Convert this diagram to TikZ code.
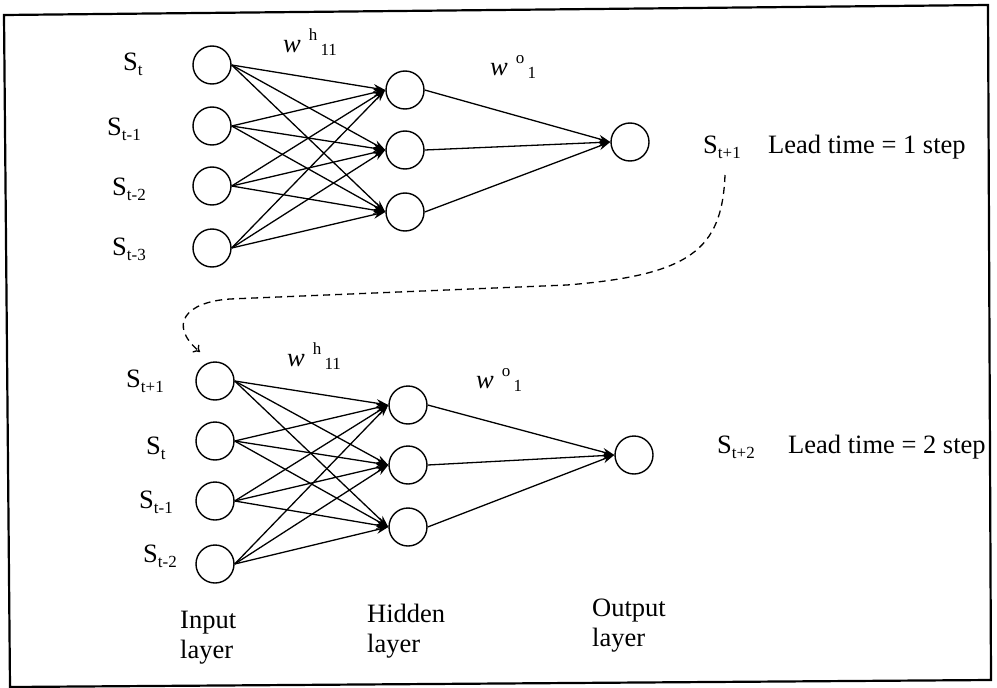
\documentclass[tikz,border=0pt]{standalone}
\usepackage{fontspec}
\setmainfont{Liberation Serif}
\usetikzlibrary{arrows.meta}

% small raised / lowered indices used in the labels
\newcommand{\lsub}[1]{\raisebox{-0.22em}{\fontsize{17}{17}\selectfont #1}}
\newcommand{\wlab}[2]{\textit{w}\hspace{0.3em}\raisebox{0.42em}{\fontsize{17}{17}\selectfont #1}\hspace{0.12em}\raisebox{-0.12em}{\fontsize{17}{17}\selectfont #2}}

\tikzset{
  neuron/.style={circle, draw, line width=1.4pt, minimum size=38pt, inner sep=0pt},
  lbl/.style={inner sep=0pt, anchor=base west, font=\fontsize{26.5}{30}\selectfont},
  layerlbl/.style={inner sep=0pt, anchor=north west, align=left, font=\fontsize{26.5}{30}\selectfont},
  link/.style={line width=1.3pt, -{Stealth[length=12pt,width=8pt]}},
  feedback/.style={line width=1.3pt, dash pattern=on 7pt off 5pt, -{To[length=6pt,width=10pt]}}
}

\begin{document}
\begin{tikzpicture}[x=1pt, y=-1pt]
\useasboundingbox (0,0) rectangle (997,688);

% outer frame
\draw[line width=2.2pt] (4,15) -- (988,5) -- (991,680) -- (10,687) -- cycle;

% ---------- one-step network ----------
\node[neuron] (ti1) at (212,65) {};
\node[neuron] (ti2) at (212,126) {};
\node[neuron] (ti3) at (212,186) {};
\node[neuron] (ti4) at (212,248) {};
\node[neuron] (th1) at (405,90) {};
\node[neuron] (th2) at (405,150) {};
\node[neuron] (th3) at (405,212) {};
\node[neuron] (to)  at (630,142) {};

\foreach \i in {1,...,4}
  \foreach \h in {1,2,3}
    \draw[link] (ti\i.east) -- (th\h.west);
\foreach \h in {1,2,3}
  \draw[link] (th\h.east) -- (to.west);

\node[lbl] (tl1) at (123,70)  {S\lsub{t}};
\node[lbl] (tl2) at (107,135) {S\lsub{t-1}};
\node[lbl] (tl3) at (112,195) {S\lsub{t-2}};
\node[lbl] (tl4) at (112,255) {S\lsub{t-3}};
\node[lbl] (twh) at (283,52)  {\wlab{h}{11}};
\node[lbl] (two) at (490,75)  {\wlab{o}{1}};
\node[lbl] (tout) at (703,153) {S\lsub{t+1}};
\node[lbl] (tlead) at (768,153) {Lead time = 1 step};

% ---------- two-step network ----------
\node[neuron] (bi1) at (215,381) {};
\node[neuron] (bi2) at (215,441) {};
\node[neuron] (bi3) at (215,501) {};
\node[neuron] (bi4) at (215,564) {};
\node[neuron] (bh1) at (408,405) {};
\node[neuron] (bh2) at (408,465) {};
\node[neuron] (bh3) at (408,527) {};
\node[neuron] (bo)  at (634,455) {};

\foreach \i in {1,...,4}
  \foreach \h in {1,2,3}
    \draw[link] (bi\i.east) -- (bh\h.west);
\foreach \h in {1,2,3}
  \draw[link] (bh\h.east) -- (bo.west);

\node[lbl] (bl1) at (126,387) {S\lsub{t+1}};
\node[lbl] (bl2) at (146,454) {S\lsub{t}};
\node[lbl] (bl3) at (139,508) {S\lsub{t-1}};
\node[lbl] (bl4) at (143,562) {S\lsub{t-2}};
\node[lbl] (bwh) at (287,366) {\wlab{h}{11}};
\node[lbl] (bwo) at (476,388) {\wlab{o}{1}};
\node[lbl] (bout) at (717,453) {S\lsub{t+2}};
\node[lbl] (blead) at (788,453) {Lead time = 2 step};

% layer captions
\node[layerlbl] (capin)  at (180,611) {Input\\layer};
\node[layerlbl] (caphid) at (367,604) {Hidden\\layer};
\node[layerlbl] (capout) at (592,599) {Output\\layer};

% predicted value fed back as an input
\coordinate (fbstart) at (725,175);
\coordinate (fbend) at (200,352);
\draw[feedback] (fbstart) .. controls (722,250) and (690,275) .. (567,285)
  -- (230,299) .. controls (185,302) and (168,325) .. (fbend);
\end{tikzpicture}
\end{document}
